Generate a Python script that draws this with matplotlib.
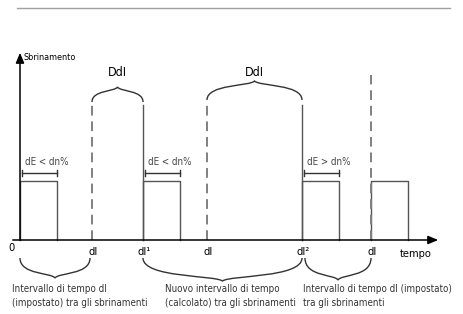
import numpy as np
import matplotlib.pyplot as plt
from matplotlib.path import Path
from matplotlib.patches import PathPatch

plt.rcParams['font.family'] = ['DejaVu Sans']
plt.rcParams['font.stretch'] = 'condensed'

# --- diagram data (time units from origin, level units) ---
pulse_starts = [0, 123, 282, 351]
pulse_len = 37
pulse_height = 59
solid_marks = [123, 282]          # dI1, dI2 (new intervals)
dashed_marks = [72, 187, 351]     # dI (set interval)
dashed_tops = [135, 135, 165]
solid_top = 135
tick_pos = [-10, 72, 123, 187, 282, 351]
tick_labels = ['0', 'dI', 'dI\u00b9', 'dI', 'dI\u00b2', 'dI']
bracket_texts = ['dE < dn%', 'dE < dn%', 'dE > dn%']
top_braces = [(72, 123, 138, 12), (187, 282, 140, 16)]
bottom_braces = [(0, 70, -18, -17), (123, 282, -18, -20), (285, 351, -18, -19)]
bottom_texts = [
    (-8, 'Intervallo di tempo dI\n(impostato) tra gli sbrinamenti'),
    (145, 'Nuovo intervallo di tempo\n(calcolato) tra gli sbrinamenti'),
    (283, 'Intervallo di tempo dI (impostato)\ntra gli sbrinamenti'),
]

line_col = '#555555'
dash_col = '#808080'


def brace(ax, x0, x1, y, h, tip=3):
    xm = (x0 + x1) / 2
    s = np.sign(h)
    verts = [(x0, y), (x0, y + h), (xm - (xm - x0) * 0.1, y + h * 0.85), (xm, y + h + s * tip),
             (xm + (x1 - xm) * 0.1, y + h * 0.85), (x1, y + h), (x1, y)]
    codes = [Path.MOVETO, Path.CURVE4, Path.CURVE4, Path.CURVE4,
             Path.CURVE4, Path.CURVE4, Path.CURVE4]
    ax.add_patch(PathPatch(Path(verts, codes), fill=False, lw=1.0, color='#333333'))


fig = plt.figure(figsize=(4.64, 3.14), dpi=100)
ax = fig.add_axes([0, 0, 1, 1])
ax.set_xlim(-20, 444)
ax.set_ylim(-74, 240)
ax.axis('off')

# top rule
ax.plot([-3, 430], [232, 232], color='#a0a0a0', lw=1.0)

# axes with arrows
ax.annotate('', xy=(421, 0), xytext=(-10, 0),
            arrowprops=dict(arrowstyle='-|>,head_length=0.6,head_width=0.25', color='black', lw=1.1))
ax.annotate('', xy=(0, 190), xytext=(0, -3),
            arrowprops=dict(arrowstyle='-|>,head_length=0.6,head_width=0.25', color='black', lw=1.1))
ax.text(4, 183, 'Sbrinamento', fontsize=6.5, va='center', ha='left')
ax.text(396, -14, 'tempo', fontsize=8, va='center', ha='center')

# pulses
for s in pulse_starts:
    ax.plot([s, s, s + pulse_len, s + pulse_len], [0, pulse_height, pulse_height, 0],
            color=line_col, lw=1.0)

# vertical marks
for x in solid_marks:
    ax.plot([x, x], [0, solid_top], color=line_col, lw=1.0)
for x, top in zip(dashed_marks, dashed_tops):
    ax.plot([x, x], [0, top], color=dash_col, lw=1.4, dashes=(5, 3))

# dE brackets
for s, txt in zip(pulse_starts[:3], bracket_texts):
    a, b = s + 2, s + pulse_len
    ax.plot([a, b], [67, 67], color='#333333', lw=1.0)
    ax.plot([a, a], [64, 70], color='#333333', lw=1.0)
    ax.plot([b, b], [64, 70], color='#333333', lw=1.0)
    ax.text(a + 3, 78, txt, fontsize=7, ha='left', va='center', color='#444444')

# tick labels
for x, lab in zip(tick_pos, tick_labels):
    ax.text(x + 1, -12 if lab != '0' else -8, lab, fontsize=8, ha='center', va='center')

# braces
for x0, x1, y, h in top_braces:
    brace(ax, x0, x1, y, h)
    ax.text((x0 + x1) / 2, 167, 'DdI', fontsize=9, ha='center', va='center')
for x0, x1, y, h in bottom_braces:
    brace(ax, x0, x1, y, h)

for x, txt in bottom_texts:
    ax.text(x, -56, txt, fontsize=7, ha='left', va='center', linespacing=1.5, color='#333333')

fig.savefig('out.png', dpi=100)
